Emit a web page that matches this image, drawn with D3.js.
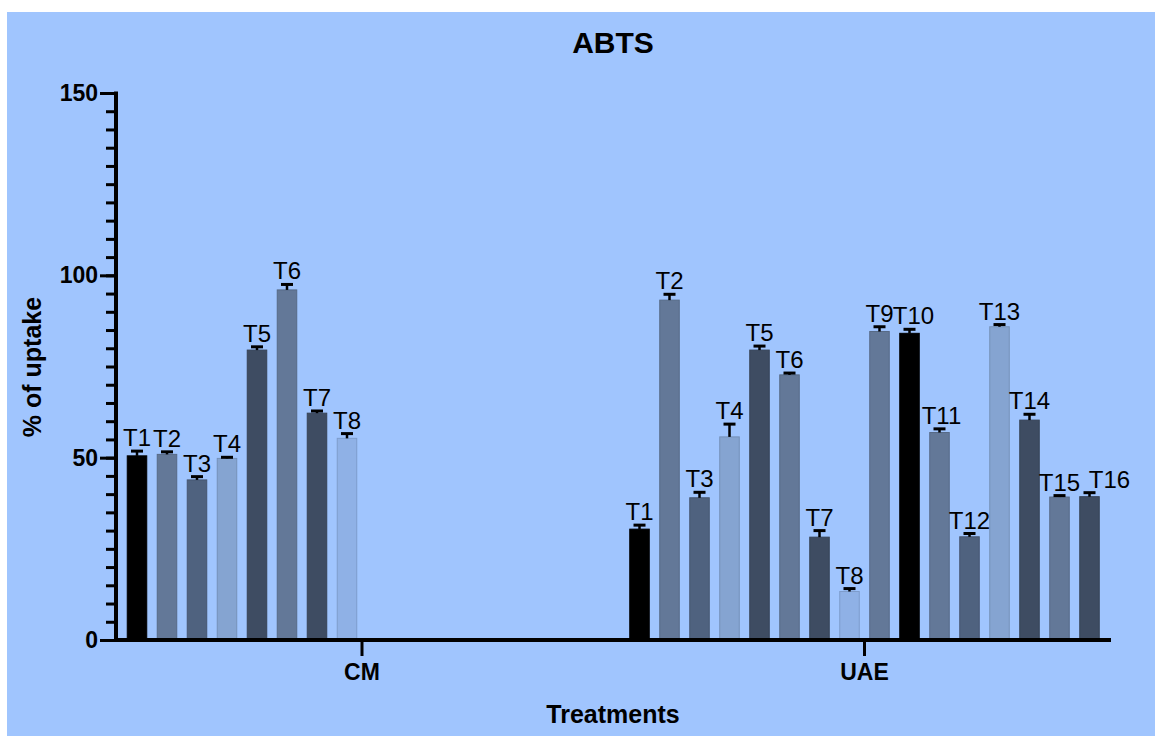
<!DOCTYPE html>
<html>
<head>
<meta charset="utf-8">
<script src="https://cdn.jsdelivr.net/npm/d3@7"></script>
<style>
  body { margin: 0; background: #fff; }
  svg { display: block; font-family: "Liberation Sans", Arial, Helvetica, sans-serif; }
</style>
</head>
<body>
<svg id="chart" width="1155" height="736"></svg>
<script>
// data
const groups = ['CM', 'UAE'];
const slots = ['T1','T2','T3','T4','T5','T6','T7','T8','T9','T10','T11','T12','T13','T14','T15','T16'];

const cmLabels = ['T1','T2','T3','T4','T5','T6','T7','T8'];
const cmValues = [50.5, 50.9, 43.9, 49.8, 79.5, 96.0, 62.2, 55.3];
const cmErrors = [1.3, 0.7, 0.9, 0.3, 0.9, 1.5, 0.6, 1.3];

const uaeLabels = ['T1','T2','T3','T4','T5','T6','T7','T8','T9','T10','T11','T12','T13','T14','T15','T16'];
const uaeValues = [30.4, 93.2, 39.0, 55.7, 79.5, 72.7, 28.2, 13.3, 84.6, 84.1, 56.9, 28.3, 85.9, 60.3, 39.2, 39.3];
const uaeErrors = [1.1, 1.6, 1.5, 3.5, 1.1, 0.5, 1.8, 0.8, 1.3, 1.1, 1.0, 0.9, 0.6, 1.6, 0.4, 1.1];

const barColors = ['#000000','#637898','#4f627f','#85a4d1','#3e4c62','#637898','#3e4c62','#8fb1e6',
                   '#637898','#000000','#637898','#4f627f','#85a4d1','#3e4c62','#637898','#3e4c62'];

const yMajor = [0, 50, 100, 150];
const yMinor = d3.range(0, 151, 5);

// labels the original pushes sideways so they don't collide
const labelNudge = { 'UAE-T10': 4, 'UAE-T11': 2, 'UAE-T16': 20 };

const rows = [
  ...cmLabels.map((t, i) => ({ group: 'CM', t, value: cmValues[i], err: cmErrors[i] })),
  ...uaeLabels.map((t, i) => ({ group: 'UAE', t, value: uaeValues[i], err: uaeErrors[i] })),
];

const svg = d3.select('#chart');

svg.append('rect')
  .attr('x', 7).attr('y', 12)
  .attr('width', 1155 - 7).attr('height', 736 - 12)
  .attr('fill', '#a0c5fe');

const y = d3.scaleLinear().domain([0, 150]).range([640, 93]);
const x0 = d3.scaleBand().domain(groups).range([122, 1104.5]).paddingInner(0.0448);
const x1 = d3.scaleBand().domain(slots).range([0, x0.bandwidth()]).paddingInner(0.35).paddingOuter(0.175);
const color = d3.scaleOrdinal().domain(slots).range(barColors);

const barX = d => x0(d.group) + x1(d.t);
const barMid = d => barX(d) + x1.bandwidth() / 2;

// bars
svg.append('g')
  .selectAll('rect')
  .data(rows)
  .join('rect')
  .attr('x', barX)
  .attr('y', d => y(d.value))
  .attr('width', x1.bandwidth())
  .attr('height', d => y(0) - y(d.value))
  .attr('fill', d => color(d.t))
  .attr('stroke', d => d3.color(color(d.t)).darker(0.35))
  .attr('stroke-width', 1);

// error bars (upper only)
const eb = svg.append('g').attr('stroke', '#000');
eb.selectAll('line.v')
  .data(rows)
  .join('line')
  .attr('class', 'v')
  .attr('x1', barMid).attr('x2', barMid)
  .attr('y1', d => y(d.value))
  .attr('y2', d => y(d.value + d.err))
  .attr('stroke-width', 2.5);
eb.selectAll('line.cap')
  .data(rows)
  .join('line')
  .attr('class', 'cap')
  .attr('x1', d => barMid(d) - 6).attr('x2', d => barMid(d) + 6)
  .attr('y1', d => y(d.value + d.err))
  .attr('y2', d => y(d.value + d.err))
  .attr('stroke-width', 3);

// bar labels
svg.append('g')
  .selectAll('text')
  .data(rows)
  .join('text')
  .attr('x', d => barMid(d) + (labelNudge[`${d.group}-${d.t}`] || 0))
  .attr('y', d => y(d.value + d.err) - 5)
  .attr('text-anchor', 'middle')
  .attr('font-size', 24)
  .attr('fill', '#000')
  .text(d => d.t);

// y axis
const yAxisMinor = svg.append('g')
  .attr('transform', 'translate(116,0)')
  .call(d3.axisLeft(y).tickValues(yMinor).tickSize(10).tickSizeOuter(0).tickFormat(''));
yAxisMinor.select('.domain').remove();
yAxisMinor.selectAll('.tick line').attr('stroke-width', 3);

const yAxis = svg.append('g')
  .attr('transform', 'translate(116,0)')
  .call(d3.axisLeft(y).tickValues(yMajor).tickSize(16).tickSizeOuter(0).tickPadding(2));
yAxis.select('.domain').attr('stroke-width', 4).attr('d', 'M0,642V91.5');
yAxis.selectAll('.tick line').attr('stroke-width', 3);
yAxis.selectAll('.tick text')
  .attr('font-size', 23)
  .attr('font-weight', 'bold')
  .attr('font-family', '"Liberation Sans", Arial, sans-serif')
  .attr('fill', '#000');

// x axis
const xAxis = svg.append('g')
  .attr('transform', 'translate(0,640)')
  .call(d3.axisBottom(x0).tickSize(16).tickSizeOuter(0));
xAxis.select('.domain').attr('stroke-width', 4).attr('d', 'M114,0H1111');
xAxis.selectAll('.tick line').attr('stroke-width', 3);
xAxis.selectAll('.tick text')
  .attr('y', 40).attr('dy', 0)
  .attr('font-size', 23)
  .attr('font-weight', 'bold')
  .attr('font-family', '"Liberation Sans", Arial, sans-serif')
  .attr('fill', '#000');

// titles
svg.append('text')
  .attr('x', 613).attr('y', 53)
  .attr('text-anchor', 'middle')
  .attr('font-size', 30)
  .attr('font-weight', 'bold')
  .text('ABTS');

svg.append('text')
  .attr('x', 613).attr('y', 723)
  .attr('text-anchor', 'middle')
  .attr('font-size', 25)
  .attr('font-weight', 'bold')
  .text('Treatments');

svg.append('text')
  .attr('transform', 'translate(41,367) rotate(-90)')
  .attr('text-anchor', 'middle')
  .attr('font-size', 25)
  .attr('font-weight', 'bold')
  .text('% of uptake');
</script>
</body>
</html>
